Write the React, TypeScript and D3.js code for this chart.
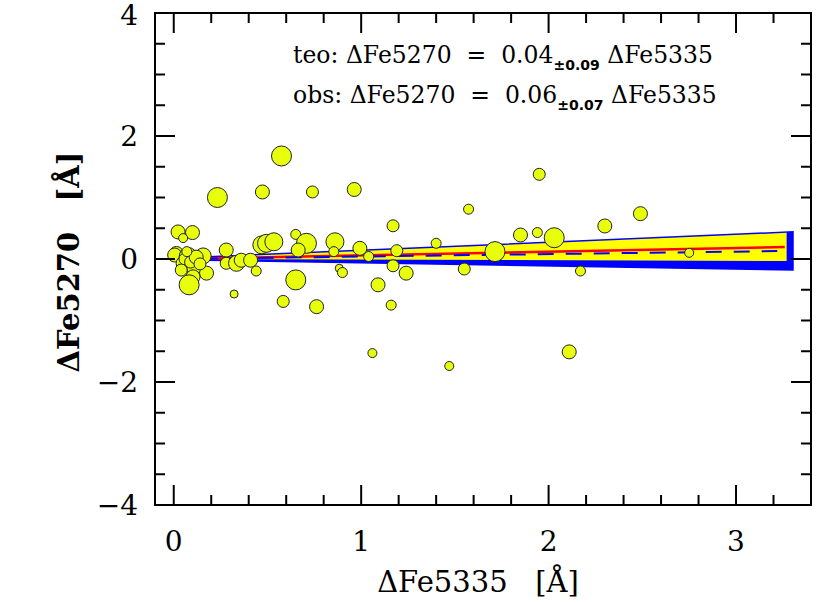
import React from 'react';
import * as d3 from 'd3';

// Observed index differences (Angstrom) and relative point weight
const dFe5335 = [
  0.014, 0.005, 0.077, 0.157, 0.05, 0.112, 0.175, 0.103, 0.082, 0.023, 0.10, 0.05,
  0.06, 0.09, 0.12, 0.04, 0.14, 0.07,
  0.575, 0.233, 0.473, 0.74, 0.963, 1.17, 1.40, 0.28, 0.28, 0.335, 0.36, 0.41,
  0.44, 0.47, 0.495, 0.534, 0.651, 0.708, 0.664, 0.651, 0.322, 0.584, 0.762, 0.86,
  0.854, 0.883, 0.90, 0.993, 1.04, 1.09, 1.17, 1.19, 1.24, 1.16, 1.06, 1.47,
  1.95, 1.573, 1.85, 1.94, 2.03, 2.30, 2.49, 1.714, 1.55, 2.17, 2.75, 2.11,
];
const dFe5270 = [
  0.09, 0.065, 0.04, 0.05, -0.07, -0.15, -0.23, -0.29, -0.42, 0.44, 0.43, 0.34,
  0.0, -0.05, 0.03, -0.18, -0.08, 0.12,
  1.675, 1.0, 1.09, 1.09, 1.13, 0.54, 0.255, 0.146, -0.07, -0.07, -0.02, -0.02,
  -0.195, 0.23, 0.255, 0.28, 0.40, 0.255, 0.146, -0.34, -0.57, -0.69, -0.775, 0.28,
  0.12, -0.15, -0.22, 0.174, 0.04, -0.42, -0.11, 0.135, -0.23, -0.75, -1.53, -1.74,
  1.377, 0.81, 0.39, 0.43, 0.346, 0.537, 0.737, 0.12, -0.163, -0.195, 0.10, -1.51,
];
const weight = [
  0.7, 0.7, 0.9, 0.8, 0.7, 0.8, 0.7, 0.7, 1.0, 0.7, 0.7, 0.45,
  0.6, 0.6, 0.7, 0.6, 0.6, 0.5,
  1.0, 1.0, 0.7, 0.6, 0.7, 0.6, 0.5, 0.7, 0.6, 0.8, 0.7, 0.7,
  0.5, 0.9, 0.9, 0.9, 0.5, 1.0, 0.7, 1.0, 0.4, 0.6, 0.7, 0.9,
  0.5, 0.4, 0.5, 0.7, 0.5, 0.7, 0.6, 0.6, 0.7, 0.5, 0.45, 0.45,
  0.6, 0.5, 0.7, 0.5, 1.0, 0.7, 0.7, 1.0, 0.6, 0.5, 0.45, 0.7,
];

// fitted slopes
const teoSlope = 0.04, teoErr = 0.09;
const obsSlope = 0.06, obsErr = 0.07;
const fitMax = 3.3;

const xTicks = [0, 1, 2, 3];
const yTicks = [-4, -2, 0, 2, 4];

const W = 830, H = 604;
const margin = { top: 13, right: 19, bottom: 99, left: 155 };

export default function App() {
  const x = d3.scaleLinear().domain([-0.1, 3.4]).range([margin.left, W - margin.right]);
  const y = d3.scaleLinear().domain([-4, 4]).range([H - margin.bottom, margin.top]);
  const r = d3.scaleLinear().domain([0, 1]).range([0, 10]);

  const x0 = x.range()[0], x1 = x.range()[1];
  const y0 = y.range()[0], y1 = y.range()[1];

  const xMinor = d3.range(0, 3.41, 0.2).filter(v => Math.abs(v - Math.round(v)) > 1e-6);
  const yMinor = d3.range(-4, 4.01, 0.5).filter(v => Math.abs(v % 2) > 1e-6);

  const wedge = (xe: number, lo: number, hi: number) =>
    d3.line()([[x(0), y(0)], [x(xe), y(hi * xe)], [x(xe), y(lo * xe)]]) + 'Z';

  const pts = dFe5335.map((v, i) => ({ x: v, y: dFe5270[i], w: weight[i] }));

  const tickStyle = { stroke: '#000', strokeWidth: 2 };
  const serif = "'DejaVu Serif', serif";

  return (
    <svg width={W} height={H} style={{ position: 'absolute', left: 0, top: 0, background: '#fff' }}>
      {/* theory and observed wedges */}
      <path d={wedge(fitMax, teoSlope - teoErr, teoSlope + teoErr)} fill="#0000ff" stroke="#0000ff" strokeWidth={3} />
      <path d={wedge(fitMax - 0.03, obsSlope - obsErr, obsSlope + obsErr)} fill="#ffff00" />
      <line x1={x(0)} y1={y(0)} x2={x(fitMax - 0.04)} y2={y(obsSlope * (fitMax - 0.04))} stroke="#ff0000" strokeWidth={2.5} />
      <line x1={x(0)} y1={y(0)} x2={x(fitMax - 0.08)} y2={y(teoSlope * (fitMax - 0.08))} stroke="#0000ff" strokeWidth={2} strokeDasharray="16 12" />

      {pts.map((d, i) => (
        <circle key={i} cx={x(d.x)} cy={y(d.y)} r={r(d.w)} fill="#e8ff0c" stroke="#222" strokeWidth={1} />
      ))}

      {/* frame */}
      <rect x={x0} y={y1} width={x1 - x0} height={y0 - y1} fill="none" stroke="#000" strokeWidth={2} />

      {xTicks.map(t => (
        <g key={'xt' + t}>
          <line x1={x(t)} x2={x(t)} y1={y0} y2={y0 - 20} {...tickStyle} />
          <line x1={x(t)} x2={x(t)} y1={y1} y2={y1 + 20} {...tickStyle} />
          <text x={x(t)} y={551} textAnchor="middle" fontFamily={serif} fontSize={28}>{t}</text>
        </g>
      ))}
      {xMinor.map((t, i) => (
        <g key={'xm' + i}>
          <line x1={x(t)} x2={x(t)} y1={y0} y2={y0 - 10} {...tickStyle} />
          <line x1={x(t)} x2={x(t)} y1={y1} y2={y1 + 10} {...tickStyle} />
        </g>
      ))}
      {yTicks.map(t => (
        <g key={'yt' + t}>
          <line x1={x0} x2={x0 + 20} y1={y(t)} y2={y(t)} {...tickStyle} />
          <line x1={x1} x2={x1 - 20} y1={y(t)} y2={y(t)} {...tickStyle} />
          <text x={138} y={Math.max(y(t) + 10, 25)} textAnchor="end" fontFamily={serif} fontSize={28}>
            {t < 0 ? '\u2212' + Math.abs(t) : t}
          </text>
        </g>
      ))}
      {yMinor.map((t, i) => (
        <g key={'ym' + i}>
          <line x1={x0} x2={x0 + 10} y1={y(t)} y2={y(t)} {...tickStyle} />
          <line x1={x1} x2={x1 - 10} y1={y(t)} y2={y(t)} {...tickStyle} />
        </g>
      ))}

      {/* axis titles */}
      <text x={478} y={592} textAnchor="middle" fontFamily={serif} fontSize={29} style={{ whiteSpace: 'pre' }}>
        {'ΔFe5335   [Å]'}
      </text>
      <text transform={`translate(79,262) rotate(-90)`} textAnchor="middle" fontFamily={serif} fontWeight="bold" fontSize={29} style={{ whiteSpace: 'pre' }}>
        {'ΔFe5270   [Å]'}
      </text>

      {/* fit annotations */}
      {[
        { lab: 'teo:', s: '0.04', e: '±0.09', yy: 63 },
        { lab: 'obs:', s: '0.06', e: '±0.07', yy: 103 },
      ].map(a => (
        <text key={a.lab} x={293} y={a.yy} fontFamily={serif} fontSize={23.5} style={{ whiteSpace: 'pre' }}>
          {a.lab + ' ΔFe5270  =  ' + a.s}
          <tspan dy={7} fontSize={14} fontWeight="bold" fontFamily="'DejaVu Sans', sans-serif">{a.e}</tspan>
          <tspan dy={-7}>{' ΔFe5335'}</tspan>
        </text>
      ))}
    </svg>
  );
}
